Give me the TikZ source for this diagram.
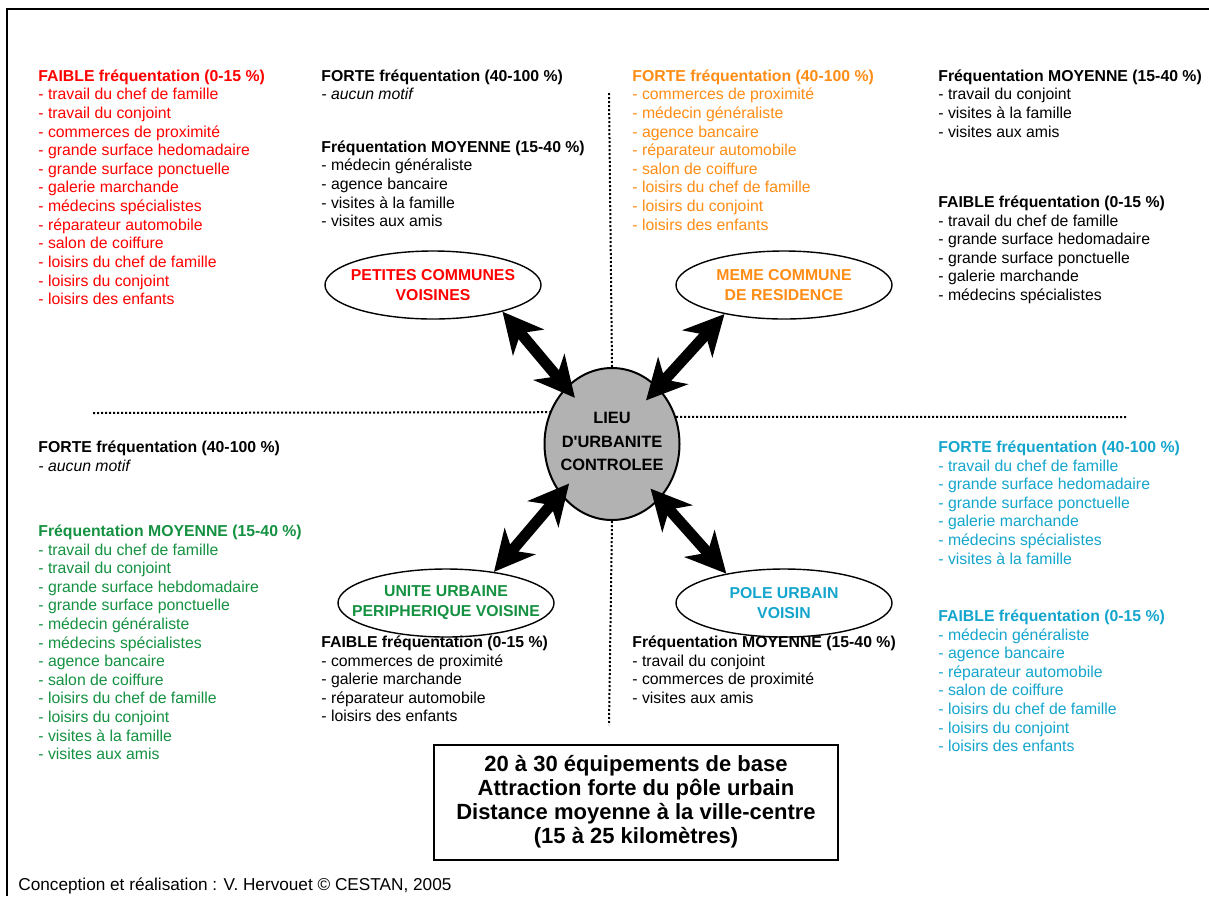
\documentclass[tikz,border=0pt]{standalone}
\usepackage{fontspec}
\setmainfont{Liberation Sans}
\usetikzlibrary{shapes.geometric,arrows.meta}
\definecolor{fred}{RGB}{255,0,0}
\definecolor{forange}{RGB}{255,140,20}
\definecolor{fgreen}{RGB}{20,145,65}
\definecolor{fcyan}{RGB}{20,165,205}
\newcommand\entete[1]{\textbf{#1}}
\tikzset{
  liste/.style={anchor=north west, yshift=5.8pt, align=left, inner sep=0pt,
    font=\fontsize{7.9}{9.3}\selectfont},
  lieu/.style={ellipse, draw, line width=0.7pt, minimum width=108pt,
    minimum height=34pt, inner xsep=-12pt, inner ysep=0pt, align=center,
    font=\fontsize{7.9}{10}\selectfont\bfseries},
  double fleche/.style={line width=5.5pt,
    {Stealth[length=20pt,width=20pt,inset=6pt]}-{Stealth[length=20pt,width=20pt,inset=6pt]}},
  limite/.style={line width=1pt, dash pattern=on 1pt off 1pt}
}

\begin{document}
\begin{tikzpicture}[x=0.5pt, y=-0.5pt]
  \useasboundingbox (0,0) rectangle (1209,896);
  % cadre
  \draw[line width=0.7pt] (7,896) -- (7,9) -- (1209,9);

  % lieu central et les 4 types de lieux
  \node[ellipse, draw, line width=1pt, fill=black!30, minimum width=67.5pt,
    minimum height=76pt, inner xsep=-6pt, align=center,
    font=\fontsize{8.2}{13}\selectfont\bfseries] (centre) at (612,444)
    {\raisebox{2.5pt}{\shortstack{LIEU\\[3pt]D\textquotesingle URBANITE\\[3pt]CONTROLEE}}};
  \node[lieu, text=fred]    (petites) at (433,285) {PETITES COMMUNES\\VOISINES};
  \node[lieu, text=forange] (meme)    at (784,285) {MEME COMMUNE\\DE RESIDENCE};
  \node[lieu, text=fgreen]  (unite)   at (446,603) {UNITE URBAINE\\PERIPHERIQUE VOISINE};
  \node[lieu, text=fcyan]   (pole)    at (784,603) {POLE URBAIN\\VOISIN};

  % axes pointilles
  \draw[limite] (93,413) -- (centre.153);
  \draw[limite] (centre.23) -- (1127,417);
  \draw[limite] (609,93) -- (centre.north);
  \draw[limite] (centre.south) -- (609,725);

  % fleches
  \draw[double fleche, shorten >=-7pt] (petites.-21) -- (centre.129);
  \draw[double fleche, shorten >=-9pt] (meme.206) -- (centre.51);
  \draw[double fleche, shorten >=-7pt] (unite.33) -- (centre.224);
  \draw[double fleche, shorten >=-7pt] (pole.153) -- (centre.-49);

  % quart haut gauche
  \node[liste, text=fred] (pcfaible) at (38,81) {\entete{FAIBLE fréquentation (0-15 \%)}\\
    - travail du chef de famille\\- travail du conjoint\\- commerces de proximité\\
    - grande surface hedomadaire\\- grande surface ponctuelle\\- galerie marchande\\
    - médecins spécialistes\\- réparateur automobile\\- salon de coiffure\\
    - loisirs du chef de famille\\- loisirs du conjoint\\- loisirs des enfants};
  \node[liste] (pcforte) at (321,81) {\entete{FORTE fréquentation (40-100 \%)}\\
    \textit{- aucun motif}};
  \node[liste] (pcmoy) at (321,152) {\entete{Fréquentation MOYENNE (15-40 \%)}\\
    - médecin généraliste\\- agence bancaire\\- visites à la famille\\- visites aux amis};

  % quart haut droit
  \node[liste, text=forange] (mcforte) at (632,81) {\entete{FORTE fréquentation (40-100 \%)}\\
    - commerces de proximité\\- médecin généraliste\\- agence bancaire\\
    - réparateur automobile\\- salon de coiffure\\- loisirs du chef de famille\\
    - loisirs du conjoint\\- loisirs des enfants};
  \node[liste] (mcmoy) at (938,81) {\entete{Fréquentation MOYENNE (15-40 \%)}\\
    - travail du conjoint\\- visites à la famille\\- visites aux amis};
  \node[liste] (mcfaible) at (938,207) {\entete{FAIBLE fréquentation (0-15 \%)}\\
    - travail du chef de famille\\- grande surface hedomadaire\\
    - grande surface ponctuelle\\- galerie marchande\\- médecins spécialistes};

  % quart bas gauche
  \node[liste] (uuforte) at (38,452) {\entete{FORTE fréquentation (40-100 \%)}\\
    \textit{- aucun motif}};
  \node[liste, text=fgreen] (uumoy) at (38,536) {\entete{Fréquentation MOYENNE (15-40 \%)}\\
    - travail du chef de famille\\- travail du conjoint\\
    - grande surface hebdomadaire\\- grande surface ponctuelle\\
    - médecin généraliste\\- médecins spécialistes\\- agence bancaire\\
    - salon de coiffure\\- loisirs du chef de famille\\- loisirs du conjoint\\
    - visites à la famille\\- visites aux amis};
  \node[liste] (uufaible) at (321,647) {\entete{FAIBLE fréquentation (0-15 \%)}\\
    - commerces de proximité\\- galerie marchande\\- réparateur automobile\\
    - loisirs des enfants};

  % quart bas droit
  \node[liste] (pumoy) at (632,647) {\entete{Fréquentation MOYENNE (15-40 \%)}\\
    - travail du conjoint\\- commerces de proximité\\- visites aux amis};
  \node[liste, text=fcyan] (puforte) at (938,452) {\entete{FORTE fréquentation (40-100 \%)}\\
    - travail du chef de famille\\- grande surface hedomadaire\\
    - grande surface ponctuelle\\- galerie marchande\\- médecins spécialistes\\
    - visites à la famille};
  \node[liste, text=fcyan] (pufaible) at (938,621) {\entete{FAIBLE fréquentation (0-15 \%)}\\
    - médecin généraliste\\- agence bancaire\\- réparateur automobile\\
    - salon de coiffure\\- loisirs du chef de famille\\- loisirs du conjoint\\
    - loisirs des enfants};

  % encadre de synthese
  \draw[line width=1pt] (434,745) rectangle (838,860);
  \node[align=center, font=\fontsize{11}{12}\selectfont\bfseries] (synthese) at (636,802)
    {20 à 30 équipements de base\\Attraction forte du pôle urbain\\
     Distance moyenne à la ville-centre\\(15 à 25 kilomètres)};

  % source
  \node[anchor=base west, inner sep=0pt, font=\fontsize{8.6}{10}\selectfont] (source) at (18,890)
    {Conception et réalisation : V. Hervouet © CESTAN, 2005};
\end{tikzpicture}
\end{document}
